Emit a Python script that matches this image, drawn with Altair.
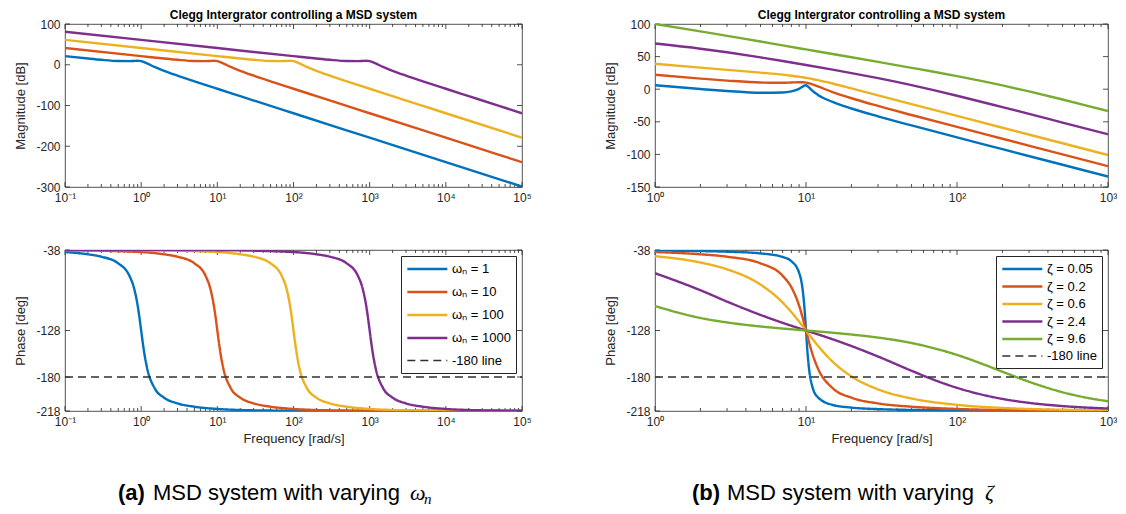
import altair as alt
import pandas as pd

FONT = "Liberation Sans"
INK = "#262626"
COLORS = ["#0072BD", "#D95319", "#EDB120", "#7E2F8E", "#77AC30"]
REF_COLOR = "#303030"
REF_LABEL = "-180 line"
TITLE = "Clegg Intergrator controlling a MSD system"

# ---------------- (a) varying omega_n ----------------
A_LABELS = ["ω\u2099 = 1", "ω\u2099 = 10", "ω\u2099 = 100", "ω\u2099 = 1000"]

A1_FREQ = [0.1, 0.2, 0.3, 0.5, 0.7, 0.8, 0.9, 0.95, 1, 1.05, 1.1, 1.2, 1.5, 2, 3, 5, 10, 20, 50, 100, 1000, 10000, 100000]
A1_MAG = [21.1, 15.3, 12.2, 9.2, 8.8, 9.3, 9.7, 9.6, 9.0, 7.9, 6.4, 3.2, -5.4, -14.9, -26.7, -40.6, -58.9, -77.0, -100.9, -119, -179, -239, -299]
A1_PHASE = [-40.3, -42.8, -45.5, -52.9, -66.8, -79.6, -100.2, -113.6, -128, -141.7, -153.5, -170.5, -192.4, -203.1, -209.5, -213.2, -215.7, -216.9, -217.5, -217.8, -218, -218, -218]

A2_FREQ = [0.1, 1, 2, 3, 5, 7, 8, 9, 9.5, 10, 10.5, 11, 12, 15, 20, 30, 50, 100, 200, 500, 1000, 10000, 100000]
A2_MAG = [41.0, 21.1, 15.3, 12.2, 9.2, 8.8, 9.3, 9.7, 9.6, 9.0, 7.9, 6.4, 3.2, -5.4, -14.9, -26.7, -40.6, -58.9, -77.0, -100.9, -119, -179, -239]
A2_PHASE = [-38.2, -40.3, -42.8, -45.5, -52.9, -66.8, -79.6, -100.2, -113.6, -128, -141.7, -153.5, -170.5, -192.4, -203.1, -209.5, -213.2, -215.7, -216.9, -217.5, -217.8, -218, -218]

A3_FREQ = [0.1, 1, 10, 20, 30, 50, 70, 80, 90, 95, 100, 105, 110, 120, 150, 200, 300, 500, 1000, 2000, 5000, 10000, 100000]
A3_MAG = [61.0, 41.0, 21.1, 15.3, 12.2, 9.2, 8.8, 9.3, 9.7, 9.6, 9.0, 7.9, 6.4, 3.2, -5.4, -14.9, -26.7, -40.6, -58.9, -77.0, -100.9, -119, -179]
A3_PHASE = [-38.0, -38.2, -40.3, -42.8, -45.5, -52.9, -66.8, -79.6, -100.2, -113.6, -128, -141.7, -153.5, -170.5, -192.4, -203.1, -209.5, -213.2, -215.7, -216.9, -217.5, -217.8, -218]

A4_FREQ = [0.1, 1, 10, 100, 200, 300, 500, 700, 800, 900, 950, 1000, 1050, 1100, 1200, 1500, 2000, 3000, 5000, 10000, 20000, 50000, 100000]
A4_MAG = [81.0, 61.0, 41.0, 21.1, 15.3, 12.2, 9.2, 8.8, 9.3, 9.7, 9.6, 9.0, 7.9, 6.4, 3.2, -5.4, -14.9, -26.7, -40.6, -58.9, -77.0, -100.9, -119]
A4_PHASE = [-38.0, -38.0, -38.2, -40.3, -42.8, -45.5, -52.9, -66.8, -79.6, -100.2, -113.6, -128, -141.7, -153.5, -170.5, -192.4, -203.1, -209.5, -213.2, -215.7, -216.9, -217.5, -217.8]

A_REF_FREQ = [0.1, 100000]
A_REF_PHASE = [-180, -180]

# ---------------- (b) varying zeta ----------------
B_LABELS = ["ζ = 0.05", "ζ = 0.2", "ζ = 0.6", "ζ = 2.4", "ζ = 9.6"]

B1_FREQ = [1, 2, 3, 5, 7, 8, 9, 9.5, 9.75, 10, 10.25, 10.5, 11, 12, 15, 20, 30, 50, 100, 200, 500, 1000]
B1_MAG = [6.1, 0.3, -2.7, -5.5, -5.1, -3.4, 0.5, 3.8, 5.5, 6.0, 4.6, 2.3, -2.3, -8.8, -19.5, -29.6, -41.6, -55.6, -73.9, -92.0, -115.9, -134.0]
B1_PHASE = [-38.6, -39.2, -39.9, -41.8, -45.8, -50.5, -63.4, -82.3, -101.1, -128, -154.3, -172.3, -190.4, -202.7, -211.2, -214.2, -215.9, -216.8, -217.4, -217.7, -217.9, -217.9]

B2_FREQ = [1, 2, 3, 5, 7, 8, 9, 9.5, 10, 10.5, 11, 12, 15, 20, 30, 50, 100, 200, 500, 1000]
B2_MAG = [22.1, 16.3, 13.2, 10.2, 9.8, 10.3, 10.7, 10.6, 10.0, 8.9, 7.4, 4.2, -4.4, -13.9, -25.7, -39.6, -57.9, -76.0, -99.9, -118.0]
B2_PHASE = [-40.3, -42.8, -45.5, -52.9, -66.8, -79.6, -100.2, -113.6, -128, -141.7, -153.5, -170.5, -192.4, -203.1, -209.5, -213.2, -215.7, -216.9, -217.5, -217.8]

B3_FREQ = [1, 2, 3, 5, 7, 8, 9, 9.5, 10, 10.5, 11, 12, 15, 20, 30, 50, 100, 200, 500, 1000]
B3_MAG = [39.0, 33.1, 29.7, 25.4, 22.3, 20.7, 19.1, 18.3, 17.4, 16.5, 15.7, 13.9, 8.7, 1.3, -9.4, -22.9, -41.0, -59.1, -82.9, -101.0]
B3_PHASE = [-44.9, -52.0, -59.6, -76.7, -96.7, -107.4, -118.0, -123.1, -128, -132.7, -137.0, -145.0, -162.8, -179.3, -193.8, -204.0, -211.1, -214.6, -216.6, -217.3]

B4_FREQ = [1, 2, 3, 5, 7, 10, 15, 20, 30, 50, 70, 100, 200, 300, 500, 1000]
B4_MAG = [70.0, 62.1, 56.6, 48.8, 43.3, 37.2, 30.0, 24.7, 16.9, 6.2, -1.5, -10.0, -27.5, -37.9, -51.2, -69.2]
B4_PHASE = [-63.9, -83.0, -95.7, -110.6, -119.4, -128, -137.8, -145.4, -157.1, -173.0, -183.0, -192.1, -204.5, -208.9, -212.5, -215.2]

B5_FREQ = [1, 2, 3, 5, 7, 10, 15, 20, 30, 50, 70, 100, 150, 200, 300, 500, 700, 1000]
B5_MAG = [100.0, 88.7, 81.8, 73.1, 67.2, 61.0, 54.0, 49.0, 41.9, 32.8, 26.7, 20.0, 11.9, 5.8, -3.4, -15.8, -24.3, -33.5]
B5_PHASE = [-100.7, -114.0, -119.0, -123.5, -125.8, -128, -130.5, -132.5, -135.9, -142.0, -147.7, -155.3, -165.9, -174.1, -185.3, -197.0, -202.7, -207.1]

B_REF_FREQ = [1, 1000]
B_REF_PHASE = [-180, -180]

# axis tick values
A_XTICKS = [0.1, 1, 10, 100, 1000, 10000, 100000]
B_XTICKS = [1, 10, 100, 1000]
A_MAG_TICKS = [-300, -200, -100, 0, 100]
B_MAG_TICKS = [-150, -100, -50, 0, 50, 100]
PHASE_TICKS = [-218, -180, -128, -38]

LABEL_EXPR = "'10' + ['\u207b\u00b9','\u2070','\u00b9','\u00b2','\u00b3','\u2074','\u2075'][round(log(datum.value)/LN10)+1]"

W_A, W_B, H_TOP, H_BOT = 457, 453, 163, 161


def build_df(labels, freqs, vals, field):
    rows = []
    for lab, fs, vs in zip(labels, freqs, vals):
        for f, v in zip(fs, vs):
            rows.append({"series": lab, "freq": f, field: v})
    return pd.DataFrame(rows)


def x_enc(domain, values, title):
    return alt.X("freq:Q",
                 scale=alt.Scale(type="log", domain=domain, nice=False),
                 axis=alt.Axis(values=values, labelExpr=LABEL_EXPR, ticks=False, domain=False,
                               grid=False, title=title, labelPadding=5, titlePadding=5,
                               labelOverlap=False, labelFlush=False))


def y_enc(field, domain, values, title):
    return alt.Y(f"{field}:Q",
                 scale=alt.Scale(domain=domain, nice=False, zero=False),
                 axis=alt.Axis(values=values, labelExpr="'' + datum.value", ticks=False, domain=False,
                               grid=False, title=title, minExtent=32, maxExtent=32,
                               labelPadding=5, titlePadding=6))


def minor_ticks(decades):
    out = []
    for d in decades[:-1]:
        for m in range(2, 10):
            out.append(d * m)
    return out


def tick_layers(xe, ye, field, xmajor, yvals, W, H):
    xminor = minor_ticks(xmajor)
    rule = dict(color=INK, strokeWidth=0.8)
    dmaj = alt.Chart(pd.DataFrame({"freq": xmajor})).mark_rule(**rule)
    dmin = alt.Chart(pd.DataFrame({"freq": xminor})).mark_rule(**rule)
    dy = alt.Chart(pd.DataFrame({field: yvals})).mark_rule(**rule)
    return [
        dmaj.encode(x=xe, y=alt.value(0), y2=alt.value(5)),
        dmaj.encode(x=xe, y=alt.value(H), y2=alt.value(H - 5)),
        dmin.encode(x=xe, y=alt.value(0), y2=alt.value(3)),
        dmin.encode(x=xe, y=alt.value(H), y2=alt.value(H - 3)),
        dy.encode(y=ye, x=alt.value(0), x2=alt.value(5)),
        dy.encode(y=ye, x=alt.value(W), x2=alt.value(W - 5)),
    ]


def mag_panel(labels, freqs, mags, xdom, xticks, ydom, yticks, W, H):
    df = build_df(labels, freqs, mags, "mag")
    xe = x_enc(xdom, xticks, "")
    ye = y_enc("mag", ydom, yticks, "Magnitude [dB]")
    lines = alt.Chart(df).mark_line(clip=True, interpolate="monotone", strokeWidth=2.4).encode(
        x=xe, y=ye,
        color=alt.Color("series:N", scale=alt.Scale(domain=labels, range=COLORS[:len(labels)]), legend=None),
    )
    title = alt.Chart(pd.DataFrame({"k": [0]})).mark_text(
        text=TITLE, font=FONT, fontSize=12, fontWeight="bold", color="black",
        align="center", baseline="middle").encode(x=alt.value(W / 2), y=alt.value(-9))
    return alt.layer(*tick_layers(xe, ye, "mag", xticks, yticks, W, H), lines, title).properties(
        width=W, height=H)


def phase_panel(labels, freqs, phases, ref_f, ref_p, xdom, xticks, W, H, row_pad):
    dom = labels + [REF_LABEL]
    df = build_df(dom, freqs + [ref_f], phases + [ref_p], "phase")
    xe = x_enc(xdom, xticks, "Frequency [rad/s]")
    ye = y_enc("phase", [-218, -38], PHASE_TICKS, "Phase [deg]")
    leg = alt.Legend(title=None, orient="top-right", offset=6, fillColor="white", strokeColor=INK,
                     padding=5, symbolType="M-1,0H5", symbolSize=178, labelFontSize=13,
                     labelFont=FONT, labelColor="black", rowPadding=row_pad, labelLimit=300,
                     cornerRadius=0, labelOffset=30)
    lines = alt.Chart(df).mark_line(clip=True, interpolate="monotone").encode(
        x=xe, y=ye,
        color=alt.Color("series:N", scale=alt.Scale(domain=dom, range=COLORS[:len(labels)] + [REF_COLOR]),
                        legend=leg, sort=dom),
        strokeDash=alt.StrokeDash("series:N", scale=alt.Scale(domain=dom, range=[[1, 0]] * len(labels) + [[8, 5]]),
                                  legend=leg, sort=dom),
        strokeWidth=alt.StrokeWidth("series:N", scale=alt.Scale(type="ordinal", domain=dom,
                                                                range=[2.4] * len(labels) + [1.3]),
                                    legend=leg, sort=dom),
    )
    return alt.layer(*tick_layers(xe, ye, "phase", xticks, PHASE_TICKS, W, H), lines).properties(
        width=W, height=H)


def caption(W, tag, tag_x, sym, sym_x, sub=None):
    one = pd.DataFrame({"k": [0]})
    base_y = 14
    parts = [
        alt.Chart(one).mark_text(text=tag, font=FONT, fontSize=22, fontWeight="bold", align="left",
                                 baseline="alphabetic", color="black").encode(x=alt.value(tag_x), y=alt.value(base_y)),
        alt.Chart(one).mark_text(text="MSD system with varying", font=FONT, fontSize=22, align="left",
                                 baseline="alphabetic", color="black").encode(x=alt.value(tag_x + 35), y=alt.value(base_y)),
        alt.Chart(one).mark_text(text=sym, font="Liberation Serif", fontSize=22, fontStyle="italic",
                                 align="left", baseline="alphabetic", color="black").encode(x=alt.value(sym_x), y=alt.value(base_y)),
    ]
    if sub:
        parts.append(alt.Chart(one).mark_text(text=sub, font="Liberation Serif", fontSize=15, fontStyle="italic",
                                              align="left", baseline="alphabetic", color="black").encode(
            x=alt.value(sym_x + 14), y=alt.value(base_y + 4)))
    return alt.layer(*parts).properties(width=W, height=18, view=alt.ViewBackground(strokeWidth=0))


a_mag = mag_panel(A_LABELS, [A1_FREQ, A2_FREQ, A3_FREQ, A4_FREQ], [A1_MAG, A2_MAG, A3_MAG, A4_MAG],
                  [0.1, 100000], A_XTICKS, [-300, 100], A_MAG_TICKS, W_A, H_TOP)
a_ph = phase_panel(A_LABELS, [A1_FREQ, A2_FREQ, A3_FREQ, A4_FREQ], [A1_PHASE, A2_PHASE, A3_PHASE, A4_PHASE],
                   A_REF_FREQ, A_REF_PHASE, [0.1, 100000], A_XTICKS, W_A, H_BOT, 8)
b_mag = mag_panel(B_LABELS, [B1_FREQ, B2_FREQ, B3_FREQ, B4_FREQ, B5_FREQ], [B1_MAG, B2_MAG, B3_MAG, B4_MAG, B5_MAG],
                  [1, 1000], B_XTICKS, [-150, 100], B_MAG_TICKS, W_B, H_TOP)
b_ph = phase_panel(B_LABELS, [B1_FREQ, B2_FREQ, B3_FREQ, B4_FREQ, B5_FREQ],
                   [B1_PHASE, B2_PHASE, B3_PHASE, B4_PHASE, B5_PHASE],
                   B_REF_FREQ, B_REF_PHASE, [1, 1000], B_XTICKS, W_B, H_BOT, 2.5)

a_cap = caption(W_A, "(a)", 53, "ω", 345, "n")
b_cap = caption(W_B, "(b)", 37, "ζ", 330)


def column(top, bot, cap):
    plots = alt.vconcat(top, bot, spacing=39).resolve_scale(
        color="independent", strokeDash="independent", strokeWidth="independent").resolve_legend(
        color="independent", strokeDash="independent", strokeWidth="independent")
    return alt.vconcat(plots, cap, spacing=36)


chart = alt.hconcat(column(a_mag, a_ph, a_cap), column(b_mag, b_ph, b_cap), spacing=71).resolve_scale(
    color="independent", strokeDash="independent", strokeWidth="independent").resolve_legend(
    color="independent", strokeDash="independent", strokeWidth="independent").properties(
    padding={"left": 5, "top": 0, "right": 0, "bottom": 0}, background="white"
).configure_view(stroke=INK, strokeWidth=0.8).configure_axis(
    labelFont=FONT, labelFontSize=12, labelColor=INK, titleFont=FONT, titleFontSize=13,
    titleFontWeight="normal", titleColor=INK
)

chart.save("out.html", embed_options={"renderer": "svg", "actions": False})
